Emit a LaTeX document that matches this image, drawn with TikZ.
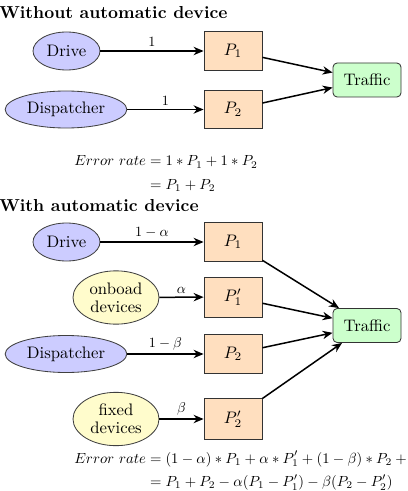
\documentclass[tikz,border=0pt]{standalone}
\usepackage{graphicx}
\usepackage{amsmath}
\usetikzlibrary{shapes.geometric,arrows.meta}
\newcommand{\shrinkmath}[1]{\scalebox{0.85}{#1}}
\newcommand{\shrinkeq}[1]{\scalebox{0.88}{#1}}
\begin{document}
\begin{tikzpicture}[x=0.6pt,y=-0.6pt,
  agent/.style={ellipse,draw=black!75,line width=0.5pt,fill=blue!20,inner sep=0pt,align=center},
  device/.style={ellipse,draw=black!75,line width=0.5pt,fill=yellow!20,inner sep=0pt,align=center,minimum width=51.6pt,minimum height=32pt},
  prob/.style={rectangle,draw=black!80,line width=0.5pt,fill=orange!25,minimum width=34.8pt,minimum height=23pt,inner sep=0pt},
  traffic/.style={rectangle,rounded corners=2.5pt,draw=black!80,line width=0.5pt,fill=green!20,minimum width=40.8pt,minimum height=20.4pt,inner sep=0pt},
  flow/.style={-{Stealth[length=6pt,width=5pt]},line width=0.9pt},
  lbl/.style={midway,above=2pt,inner sep=0pt},
  title/.style={anchor=base west,font=\fontsize{10.4}{12}\selectfont\bfseries,inner sep=0pt},
  eq/.style={anchor=base west,inner sep=0pt}]
\clip (0,0) rectangle (407,491);
% Section 1
\node[title] (t1) at (-1,19) {Without automatic device};
\node[agent,minimum width=40.2pt,minimum height=22.8pt] (drive1) at (66.5,51) {Drive};
\node[agent,minimum width=73pt,minimum height=22.2pt] (disp1) at (66,109.5) {Dispatcher};
\node[prob] (pa1) at (233,51) {$P_1$};
\node[prob] (pa2) at (233,109.5) {$P_2$};
\node[traffic] (tr1) at (367,80) {Traffic};
\draw[flow] (drive1) -- node[lbl] {\shrinkmath{1}} (pa1);
\draw[flow] (disp1) -- node[lbl] {\shrinkmath{1}} (pa2);
\draw[flow] (pa1) -- (tr1);
\draw[flow] (pa2) -- (tr1);
\node[eq] (eq1) at (74,166) {\shrinkeq{$\begin{aligned}[t] Error\ rate &= 1*P_1+1*P_2\\[1pt] &= P_1+P_2\end{aligned}$}};
% Section 2
\node[title] (t2) at (-1,211) {With automatic device};
\node[agent,minimum width=40.2pt,minimum height=22.8pt] (drive2) at (66.5,242) {Drive};
\node[device] (onb) at (116,297.5) {onboad\\[-1pt]devices};
\node[agent,minimum width=73pt,minimum height=22.2pt] (disp2) at (66,354) {Dispatcher};
\node[device] (fix) at (116,419) {fixed\\[-1pt]devices};
\node[prob] (pb1) at (233,242) {$P_1$};
\node[prob,minimum height=24pt] (pb1p) at (233,297) {$P_1'$};
\node[prob] (pb2) at (233,354) {$P_2$};
\node[prob,minimum height=25pt] (pb2p) at (233,419) {$P_2'$};
\node[traffic] (tr2) at (367,325.5) {Traffic};
\draw[flow] (drive2) -- node[lbl] {\shrinkmath{$1-\alpha$}} (pb1);
\draw[flow] (onb) -- node[lbl] {\shrinkmath{$\alpha$}} (pb1p);
\draw[flow] (disp2) -- node[lbl] {\shrinkmath{$1-\beta$}} (pb2);
\draw[flow] (fix) -- node[lbl] {\shrinkmath{$\beta$}} (pb2p);
\draw[flow] (pb1) -- (tr2);
\draw[flow] (pb1p) -- (tr2);
\draw[flow] (pb2) -- (tr2);
\draw[flow] (pb2p) -- (tr2);
\node[eq] (eq2) at (74,463) {\shrinkeq{$\begin{aligned}[t] Error\ rate &= (1-\alpha)*P_1+\alpha*P_1'+(1-\beta)*P_2+\beta*P_2'\\[1pt] &= P_1+P_2-\alpha(P_1-P_1')-\beta(P_2-P_2')\end{aligned}$}};
\end{tikzpicture}
\end{document}
